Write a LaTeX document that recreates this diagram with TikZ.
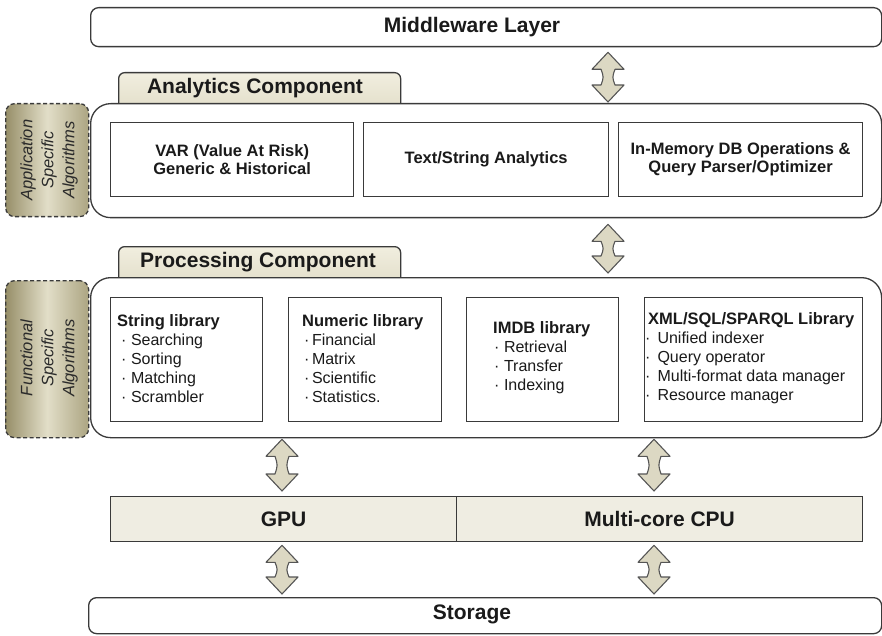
\documentclass[tikz,border=0pt]{standalone}
\usepackage{fontspec}
\setmainfont{Liberation Sans}
\usetikzlibrary{calc}
\definecolor{bdc}{HTML}{3A3A3A}
\definecolor{txt}{HTML}{1A1A1A}
\definecolor{sidetxt}{HTML}{2A2A2A}
\definecolor{tabtop}{HTML}{F1EEDF}
\definecolor{tabbot}{HTML}{E2DEC9}
\definecolor{hwfill}{HTML}{EFEDE2}
\definecolor{arrfill}{HTML}{DCD8C3}
\definecolor{arrbd}{HTML}{555555}
\definecolor{olvdark}{HTML}{978F69}
\definecolor{olvlight}{HTML}{E2DEC8}
\definecolor{olvright}{HTML}{ACA582}
\newcommand\blkarr[4]{%
  \path[blk] let \p1=(#1), \p2=(#2) in
  (\x1,\y1-#3pt) -- (\x1+16pt,\y1-#3pt-17pt) -- (\x1+7pt,\y1-#3pt-17pt)
  .. controls (\x1+4.2pt,{(\y1-#3pt+\y2+#4pt)/2}) .. (\x1+7pt,\y2+#4pt+17pt)
  -- (\x1+16pt,\y2+#4pt+17pt) -- (\x1,\y2+#4pt) -- (\x1-16pt,\y2+#4pt+17pt)
  -- (\x1-7pt,\y2+#4pt+17pt)
  .. controls (\x1-4.2pt,{(\y1-#3pt+\y2+#4pt)/2}) .. (\x1-7pt,\y1-#3pt-17pt)
  -- (\x1-16pt,\y1-#3pt-17pt) -- cycle;}
\newcommand\libitem[3]{\hspace*{#1pt}·\hspace{#2pt}#3}
\begin{document}
\begin{tikzpicture}[x=1pt,y=-1pt,
  bd/.style={draw=bdc, line width=1.3pt},
  bigbox/.style={bd, fill=white, rounded corners=20pt, anchor=north west, inner sep=0pt},
  layer/.style={bd, fill=white, rounded corners=8pt, anchor=north west, inner sep=0pt},
  tabbox/.style={bd, top color=tabtop, bottom color=tabbot, rounded corners=6pt, anchor=north west, inner sep=0pt},
  inbox/.style={bd, fill=white, anchor=north west, inner sep=0pt},
  hwbox/.style={bd, fill=hwfill, anchor=north west, inner sep=0pt, font=\fontsize{21}{24}\selectfont\bfseries, text=txt},
  sidebox/.style={draw=bdc, line width=1.3pt, dash pattern=on 4pt off 2.5pt, rounded corners=9pt, left color=olvdark, right color=olvright, middle color=olvlight, anchor=north west, inner sep=0pt},
  hdr/.style={font=\fontsize{21}{24}\selectfont\bfseries, text=txt, inner sep=0pt},
  ana/.style={font=\fontsize{16.5}{18}\selectfont\bfseries, align=center, text=txt},
  lib/.style={font=\fontsize{16}{19}\selectfont, align=left, anchor=west, text=txt, inner sep=0pt},
  side/.style={font=\fontsize{16.5}{21}\selectfont\itshape, align=center, rotate=90, text=sidetxt, inner sep=0pt},
  blk/.style={draw=arrbd, line width=1.1pt, fill=arrfill, line join=round}]
\useasboundingbox (0,0) rectangle (882,636);

% Middleware
\node[layer, minimum width=791pt, minimum height=39pt] (mw) at (90,7) {};
\node[hdr] (mwt) at (472,27) {Middleware Layer};

% Analytics component
\node[tabbox, minimum width=282pt, minimum height=38pt] (antab) at (118,72) {};
\node[hdr] (antabt) at (255,88) {Analytics Component};
\node[bigbox, minimum width=791pt, minimum height=114pt] (an) at (90,103) {};
\node[sidebox, minimum width=83pt, minimum height=113pt] (asa) at (5,103) {};
\node[side] (asat) at (49,160) {Application\\Specific\\Algorithms};
\node[inbox, ana, minimum width=243pt, minimum height=74pt] (a1) at (110,122) {VAR (Value At Risk)\\Generic \& Historical};
\node[inbox, ana, minimum width=245pt, minimum height=74pt] (a2) at (363,122) {Text/String Analytics};
\node[inbox, ana, minimum width=244pt, minimum height=74pt] (a3) at (618,122) {In-Memory DB Operations \&\\Query Parser/Optimizer};

% Processing component
\node[tabbox, minimum width=282pt, minimum height=38pt] (prtab) at (118,246) {};
\node[hdr] (prtabt) at (258,262) {Processing Component};
\node[bigbox, minimum width=791pt, minimum height=160pt] (pr) at (90,277) {};
\node[sidebox, minimum width=83pt, minimum height=157pt] (fsa) at (5,280) {};
\node[side] (fsat) at (49,358) {Functional\\Specific\\Algorithms};
\node[inbox, minimum width=152pt, minimum height=124pt] (p1) at (110,297) {};
\node[inbox, minimum width=153pt, minimum height=124pt] (p2) at (288,297) {};
\node[inbox, minimum width=152pt, minimum height=124pt] (p3) at (466,297) {};
\node[inbox, minimum width=218pt, minimum height=124pt] (p4) at (644,297) {};
\node[lib] (p1t) at (117,358.5) {{\fontsize{16.5}{19}\selectfont\bfseries String library}\\
  \libitem{4}{4.5}{Searching}\\ \libitem{4}{4.5}{Sorting}\\ \libitem{4}{4.5}{Matching}\\ \libitem{4}{4.5}{Scrambler}};
\node[lib] (p2t) at (302,358.5) {{\fontsize{16.5}{19}\selectfont\bfseries Numeric library}\\
  \libitem{1.8}{2.7}{Financial}\\ \libitem{1.8}{2.7}{Matrix}\\ \libitem{1.8}{2.7}{Scientific}\\ \libitem{1.8}{2.7}{Statistics.}};
\node[lib] (p3t) at (493,358) {{\fontsize{16.5}{19}\selectfont\bfseries IMDB library}\\
  \libitem{0.8}{4.7}{Retrieval}\\ \libitem{0.8}{4.7}{Transfer}\\ \libitem{0.8}{4.7}{Indexing}};
\node[lib] (p4t) at (648,358.5) {{\fontsize{16.5}{19}\selectfont\bfseries XML/SQL/SPARQL Library}\\
  \libitem{-3}{7}{Unified indexer}\\ \libitem{-3}{7}{Query operator}\\ \libitem{-3}{7}{Multi-format data manager}\\ \libitem{-3}{7}{Resource manager}};

% Hardware
\node[hwbox, minimum width=346pt, minimum height=45pt] (gpu) at (110,496) {GPU};
\node[hwbox, minimum width=406pt, minimum height=45pt] (cpu) at (456,496) {Multi-core CPU};

% Storage
\node[layer, minimum width=793pt, minimum height=36pt] (st) at (88,597) {};
\node[hdr] (stt) at (472,614) {Storage};

% Arrows
\coordinate (ax1) at (608,0);
\coordinate (ax2) at (282,0);
\coordinate (ax3) at (654,0);
\blkarr{ax1 |- mw.south}{ax1 |- an.north}{5}{1}
\blkarr{ax1 |- an.south}{ax1 |- pr.north}{6}{4}
\blkarr{ax2 |- pr.south}{ax2 |- gpu.north}{1}{5}
\blkarr{ax3 |- pr.south}{ax3 |- cpu.north}{1}{5}
\blkarr{ax2 |- gpu.south}{ax2 |- st.north}{3}{3}
\blkarr{ax3 |- cpu.south}{ax3 |- st.north}{3}{3}
\end{tikzpicture}
\end{document}
